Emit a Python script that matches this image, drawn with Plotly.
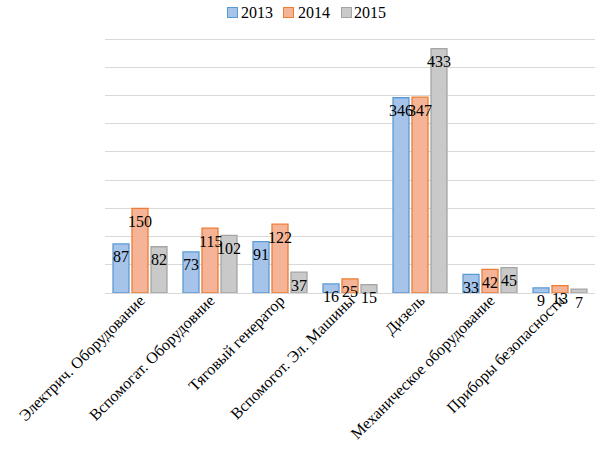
import plotly.graph_objects as go

categories = ["Электрич. Оборудование", "Вспомогат. Оборудовние", "Тяговый генератор",
              "Вспомогот. Эл. Машины", "Дизель", "Механическое оборудование",
              "Приборы безопасности"]
years = ["2013", "2014", "2015"]
v2013 = [87, 73, 91, 16, 346, 33, 9]
v2014 = [150, 115, 122, 25, 347, 42, 13]
v2015 = [82, 102, 37, 15, 433, 45, 7]

series = [v2013, v2014, v2015]
fills = ["#a6c3ea", "#f5b497", "#c9c9c9"]
lines = ["#5b9bd5", "#ed7d31", "#a5a5a5"]

FONT = "Liberation Serif"

fig = go.Figure()
for name, vals, fc, lc in zip(years, series, fills, lines):
    fig.add_trace(go.Bar(
        name=name, x=categories, y=vals,
        marker=dict(color=fc, line=dict(color=lc, width=1.3)),
        offsetgroup=name, showlegend=False,
    ))

# data labels, inside-end style (with small bars they drop below)
for i, (name, vals) in enumerate(zip(years, series)):
    for j, v in enumerate(vals):
        fig.add_annotation(
            x=j + (i - 1) * 0.271, y=v, xref="x", yref="y",
            text=str(v), showarrow=False, yanchor="middle", yshift=-13,
            font=dict(family=FONT, size=16, color="#000000"),
        )

# legend (compact, Excel-like: key box right next to its text)
LEG_Y = 0.9894
fig.add_annotation(xref="paper", yref="paper", x=0.2469, y=LEG_Y, xanchor="left",
                   yanchor="middle", text=" ", showarrow=False, width=162, height=18,
                   bgcolor="white", borderpad=0, font=dict(size=1))
key_x = [0.2490, 0.3633, 0.4816]
txt_x = [0.2755, 0.3918, 0.5061]
for name, fc, lc, kx, tx in zip(years, fills, lines, key_x, txt_x):
    fig.add_annotation(xref="paper", yref="paper", x=kx, y=LEG_Y, xanchor="left",
                       yanchor="middle", text=" ", showarrow=False, width=9, height=9,
                       bgcolor=fc, bordercolor=lc, borderwidth=1, borderpad=0,
                       font=dict(size=1))
    fig.add_annotation(xref="paper", yref="paper", x=tx, y=LEG_Y, xanchor="left",
                       yanchor="middle", text=name, showarrow=False, borderpad=0,
                       font=dict(family=FONT, size=16, color="#000000"))

fig.update_layout(
    width=606, height=459,
    margin=dict(l=105, r=11, t=10, b=166, autoexpand=False),
    paper_bgcolor="white", plot_bgcolor="white",
    barmode="group", bargap=0.186, bargroupgap=0.158,
    showlegend=False,
    font=dict(family=FONT, size=16, color="#000000"),
)
fig.update_xaxes(tickangle=-45, showgrid=False, showline=False, ticks="",
                 tickfont=dict(family=FONT, size=16, color="#000000"),
                 ticklabelstandoff=-6, type="category")
fig.update_yaxes(range=[0, 501.5], dtick=50, showticklabels=False, showgrid=True,
                 gridcolor="#d9d9d9", gridwidth=1, zeroline=True,
                 zerolinecolor="#d9d9d9", zerolinewidth=1, ticks="")

fig.write_html("out.html", config={"displayModeBar": False},
               post_script="document.body.style.margin='0';document.body.style.padding='0';")
